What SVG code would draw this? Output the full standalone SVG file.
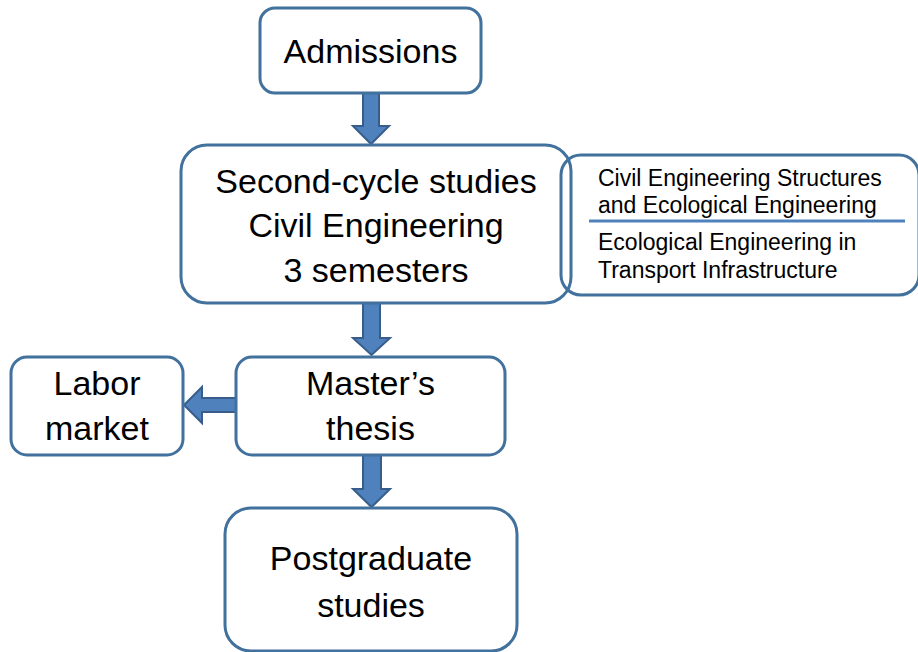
<svg xmlns="http://www.w3.org/2000/svg" width="918" height="652" viewBox="0 0 918 652">
<style>
.box{fill:#fff;stroke:#41719C;stroke-width:3}
.open{fill:none;stroke:#41719C;stroke-width:3}
.arr{fill:#4F81BD;stroke:#385D8A;stroke-width:2;stroke-linejoin:miter}
.t{font-family:"Liberation Sans",Arial,sans-serif;font-size:34px;fill:#000;text-anchor:middle}
.s{font-family:"Liberation Sans",Arial,sans-serif;font-size:23px;fill:#000}
</style>
<rect width="918" height="652" fill="#fff"/>
<g id="connectors">
<path class="arr" d="M363,93 L379,93 L379,126 L389,126 L371,144 L353,126 L363,126 Z"/>
<path class="arr" d="M363,303 L380,303 L380,338 L390,338 L371.5,355 L353,338 L363,338 Z"/>
<path class="arr" d="M236,398 L202,398 L202,387 L184,405 L202,423 L202,412 L236,412 Z"/>
<path class="arr" d="M363,455 L381,455 L381,489 L390,489 L371.5,507 L353,489 L363,489 Z"/>
</g>
<g id="admissions">
<rect class="box" x="260" y="8" width="221" height="85" rx="15"/>
<text class="t" x="370.5" y="63">Admissions</text>
</g>
<g id="second-cycle">
<rect class="box" x="181" y="145" width="390" height="158" rx="26"/>
<text class="t" x="376" y="193">Second-cycle studies</text>
<text class="t" x="376" y="237">Civil Engineering</text>
<text class="t" x="376" y="282">3 semesters</text>
</g>
<g id="specializations">
<rect class="open" x="561" y="155" width="358" height="140" rx="20"/>
<line x1="589" y1="221" x2="905" y2="221" stroke="#4F81BD" stroke-width="3"/>
<text class="s" x="598" y="186">Civil Engineering Structures</text>
<text class="s" x="598" y="213">and Ecological Engineering</text>
<text class="s" x="598" y="250">Ecological Engineering in</text>
<text class="s" x="598" y="278">Transport Infrastructure</text>
</g>
<g id="masters-thesis">
<rect class="box" x="236" y="357" width="269" height="98" rx="16"/>
<text class="t" x="370.5" y="395">Master’s</text>
<text class="t" x="370.5" y="440">thesis</text>
</g>
<g id="labor-market">
<rect class="box" x="11" y="357" width="172" height="98" rx="16"/>
<text class="t" x="97" y="395">Labor</text>
<text class="t" x="97" y="440">market</text>
</g>
<g id="postgraduate">
<rect class="box" x="225" y="508" width="292" height="143" rx="26"/>
<text class="t" x="371" y="570">Postgraduate</text>
<text class="t" x="371" y="617">studies</text>
</g>
</svg>
